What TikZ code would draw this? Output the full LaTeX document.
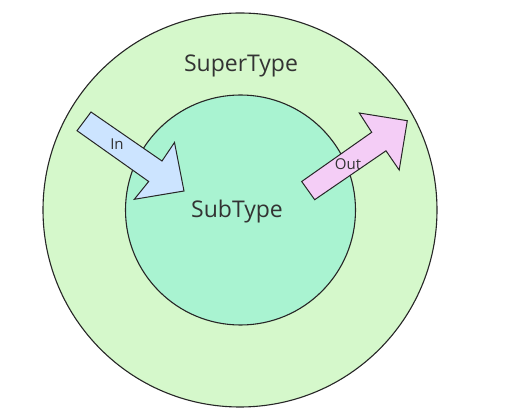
\documentclass[tikz,border=0pt]{standalone}
\usepackage{fontspec}
\setmainfont{Open Sans}
\begin{document}
\begin{tikzpicture}[x=1pt,y=-1pt,
  ring/.style={draw=black!85, line width=1.1pt},
  fatarrow/.style={draw=black!85, line width=1pt, line join=miter},
  lbl/.style={text=black!80, inner sep=0pt}]
\useasboundingbox (0,0) rectangle (512,419);
\fill[white] (0,0) rectangle (512,419);
\definecolor{outerc}{HTML}{D5F8CB}
\definecolor{innerc}{HTML}{A9F3D1}
\definecolor{inc}{HTML}{CCE4FF}
\definecolor{outc}{HTML}{F4CDF6}
\node[ring, circle, fill=outerc, minimum size=394pt, inner sep=0pt] (super) at (240,210) {};
\node[ring, circle, fill=innerc, minimum size=230pt, inner sep=0pt] (sub) at (240.5,210) {};
\node[lbl, font=\fontsize{23}{26}\selectfont] (supt) at (241,66) {SuperType};
\node[lbl, font=\fontsize{23}{26}\selectfont] (subt) at (237,212) {SubType};
\draw[fatarrow, fill=inc] (91,112) -- (162,161) -- (174.5,142.5) -- (184,191) -- (134.3,199.3) -- (148.7,181.5) -- (77,130.7) -- cycle;
\draw[fatarrow, fill=outc] (301.7,181.5) -- (371.7,132.3) -- (359.3,113) -- (407.3,120.7) -- (399.2,170) -- (386,150.8) -- (314.7,199.7) -- cycle;
\node[lbl, font=\fontsize{15}{18}\selectfont] (inl) at (117,144) {In};
\node[lbl, font=\fontsize{15}{18}\selectfont] (outl) at (348,164) {Out};
\end{tikzpicture}
\end{document}
